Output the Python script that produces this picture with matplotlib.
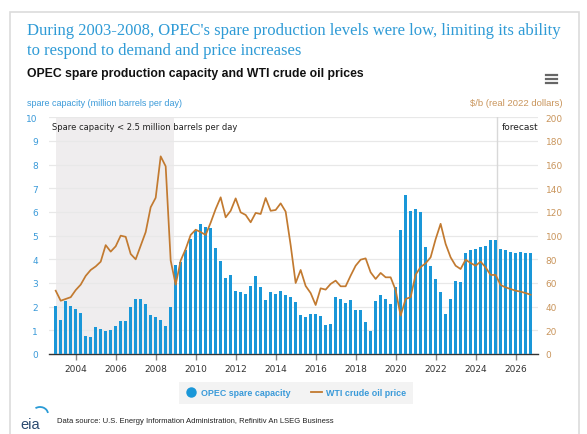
import numpy as np
import matplotlib
matplotlib.use('Agg')
import matplotlib.pyplot as plt
from matplotlib.lines import Line2D
from matplotlib.patches import Rectangle, Arc

# Quarterly data, 2003Q1 .. 2026Q4
start_year = 2003
spare_capacity = [
    2.04, 1.44, 2.25, 2.04, 1.90, 1.72, 0.75, 0.72,   # 2003-2004
    1.13, 1.06, 0.99, 1.01, 1.17, 1.39, 1.39, 1.97,   # 2005-2006
    2.32, 2.32, 2.10, 1.65, 1.55, 1.45, 1.20, 1.97,   # 2007-2008
    3.77, 3.90, 4.38, 4.86, 5.21, 5.49, 5.35, 5.32,   # 2009-2010
    4.48, 3.94, 3.22, 3.32, 2.68, 2.62, 2.52, 2.87,   # 2011-2012
    3.30, 2.83, 2.28, 2.62, 2.52, 2.65, 2.49, 2.39,   # 2013-2014
    2.20, 1.65, 1.56, 1.68, 1.71, 1.62, 1.23, 1.26,   # 2015-2016
    2.39, 2.32, 2.17, 2.28, 1.87, 1.84, 1.36, 0.98,   # 2017-2018
    2.23, 2.49, 2.32, 2.10, 2.81, 5.25, 6.73, 6.06,   # 2019-2020
    6.14, 5.99, 4.54, 3.73, 3.15, 2.61, 1.71, 2.31,   # 2021-2022
    3.09, 3.03, 4.25, 4.38, 4.44, 4.51, 4.55, 4.83,   # 2023-2024
    4.83, 4.44, 4.40, 4.31, 4.28, 4.31, 4.28, 4.25,   # 2025-2026
]
wti_price = [
    53.5, 45.0, 46.5, 48.0, 54.0, 58.6, 66.0, 71.0,
    74.0, 78.0, 92.0, 86.5, 91.0, 100.0, 99.0, 84.5,
    80.0, 91.5, 103.0, 124.0, 132.0, 167.0, 158.6, 79.0,
    58.6, 79.0, 88.7, 100.6, 105.0, 103.0, 100.6, 111.0,
    122.5, 132.4, 115.5, 121.0, 131.5, 119.7, 117.5, 111.3,
    119.2, 118.3, 131.8, 121.0, 121.7, 127.3, 120.3, 92.0,
    60.0, 71.0, 57.5, 51.5, 41.4, 55.5, 54.4, 59.2,
    62.0, 57.2, 57.2, 66.2, 74.6, 79.7, 80.8, 69.0,
    63.4, 68.5, 64.8, 64.8, 54.0, 32.4, 46.5, 48.0,
    67.0, 73.5, 76.6, 81.7, 97.0, 110.0, 93.0, 81.7,
    74.6, 71.8, 79.7, 76.9, 74.6, 78.0, 73.2, 66.8,
    66.8, 58.3, 56.3, 54.9, 53.5, 52.7, 51.5, 50.1,
]
year_ticks = list(range(2004, 2027, 2))
low_spare_period = (2003.0, 2008.93)
forecast_start = 2025.05

t = start_year + 0.25 * np.arange(len(spare_capacity))

blue = '#1a97d8'
blue_txt = '#3a9ad9'
brown = '#c27a30'
tan = '#c9955c'

W, H = 587, 435
fig = plt.figure(figsize=(W / 100, H / 100), dpi=100)
fig.patch.set_facecolor('white')

def fx(px):
    return px / W

def fy(py):
    return 1 - py / H

# outer frame
fig.patches.append(Rectangle((fx(10), fy(436)), fx(569), fy(13) - fy(436),
                             transform=fig.transFigure, fill=False,
                             edgecolor='#dcdcdc', linewidth=1.2))

left, right, top, bottom = 48.9, 537.6, 118.3, 355
ax = fig.add_axes([fx(left), fy(bottom), fx(right - left), fy(top) - fy(bottom)])
ax2 = ax.twinx()

ax.axvspan(*low_spare_period, color='#efedee', zorder=0, lw=0)
ax.axvline(forecast_start, color='#d8d8d8', lw=1.0, zorder=1)
ax.bar(t, spare_capacity, width=0.16, color=blue, zorder=3, linewidth=0)
ax2.plot(t, wti_price, color=brown, lw=1.25, zorder=4)

ax.set_xlim(2002.66, 2027.1)
ax.set_ylim(0, 10)
ax2.set_ylim(0, 200)
ax.set_yticks(range(0, 11))
ax2.set_yticks(range(0, 201, 20))
ax.set_xticks(year_ticks)
ax.set_xticklabels([str(y) for y in year_ticks])
ax.grid(axis='y', color='#e8e8e8', lw=0.9, zorder=1)
ax.set_axisbelow(True)

for a in (ax, ax2):
    for s in ('top', 'left', 'right'):
        a.spines[s].set_visible(False)
    a.set_facecolor('none')
ax2.spines['bottom'].set_visible(False)
ax.spines['bottom'].set_color('#333333')
ax.spines['bottom'].set_linewidth(1.0)

ax.tick_params(axis='y', length=0, pad=8.0, labelsize=6.5, labelcolor=blue_txt)
ax2.tick_params(axis='y', length=0, pad=5.8, labelsize=6.5, labelcolor=tan)
ax.tick_params(axis='x', length=4, width=1, color='#888888', pad=3,
               labelsize=6.5, labelcolor='#333333')

ax.text(low_spare_period[0] - 0.16, 9.6, 'Spare capacity < 2.5 million barrels per day',
        fontsize=6.0, color='#222222', va='center', ha='left', zorder=5)
ax.text(forecast_start + 0.25, 9.6, 'forecast', fontsize=6.5, color='#222222',
        va='center', ha='left', zorder=5)

# titles
fig.text(fx(27), fy(31), "During 2003-2008, OPEC's spare production levels were low, limiting its ability",
         family='Liberation Serif', fontsize=12.0, color='#2f9bd6', va='center', ha='left')
fig.text(fx(27), fy(51), 'to respond to demand and price increases',
         family='Liberation Serif', fontsize=12.0, color='#2f9bd6', va='center', ha='left')
fig.text(fx(27), fy(74), 'OPEC spare production capacity and WTI crude oil prices',
         family='Liberation Sans', fontsize=8.8, fontweight='bold', color='#111111',
         va='center', ha='left')
fig.text(fx(27), fy(104), 'spare capacity (million barrels per day)',
         family='Liberation Sans', fontsize=6.5, color=blue_txt, va='center', ha='left')
fig.text(fx(563), fy(104), '$/b (real 2022 dollars)',
         family='Liberation Sans', fontsize=6.8, color=tan, va='center', ha='right')

# menu icon
for yy in (76, 80, 84):
    fig.lines.append(Line2D([fx(546), fx(557)], [fy(yy), fy(yy)], transform=fig.transFigure,
                            color='#666666', lw=1.6))

# legend
handles = [
    Line2D([], [], marker='o', ls='none', markersize=6.5, markerfacecolor=blue,
           markeredgecolor=blue),
    Line2D([], [], color=brown, lw=1.3),
]
leg = fig.legend(handles, ['OPEC spare capacity', 'WTI crude oil price'],
                 loc='center', bbox_to_anchor=(fx(296), fy(394)), ncol=2,
                 frameon=True, fancybox=False, handlelength=1.2,
                 handletextpad=0.5, columnspacing=2.3, borderpad=0.75,
                 prop={'family': 'Liberation Sans', 'size': 6.4, 'weight': 'bold'})
leg.get_frame().set_facecolor('#f0f0f0')
leg.get_frame().set_edgecolor('none')
for txt in leg.get_texts():
    txt.set_color(blue_txt)

# footer
fig.text(fx(20), fy(425), 'eia', family='Liberation Sans', fontsize=10.5, color='#2a4a70',
         va='center', ha='left')
fig.patches.append(Arc((fx(40), fy(415)), fx(16), fy(0) - fy(14), theta1=10, theta2=120,
                       transform=fig.transFigure, color='#2a9bd6', lw=1.3))
fig.text(fx(57), fy(422), 'Data source: U.S. Energy Information Administration, Refinitiv An LSEG Business',
         family='Liberation Sans', fontsize=5.5, color='#222222', va='center', ha='left')

fig.savefig('out.png', dpi=100)
